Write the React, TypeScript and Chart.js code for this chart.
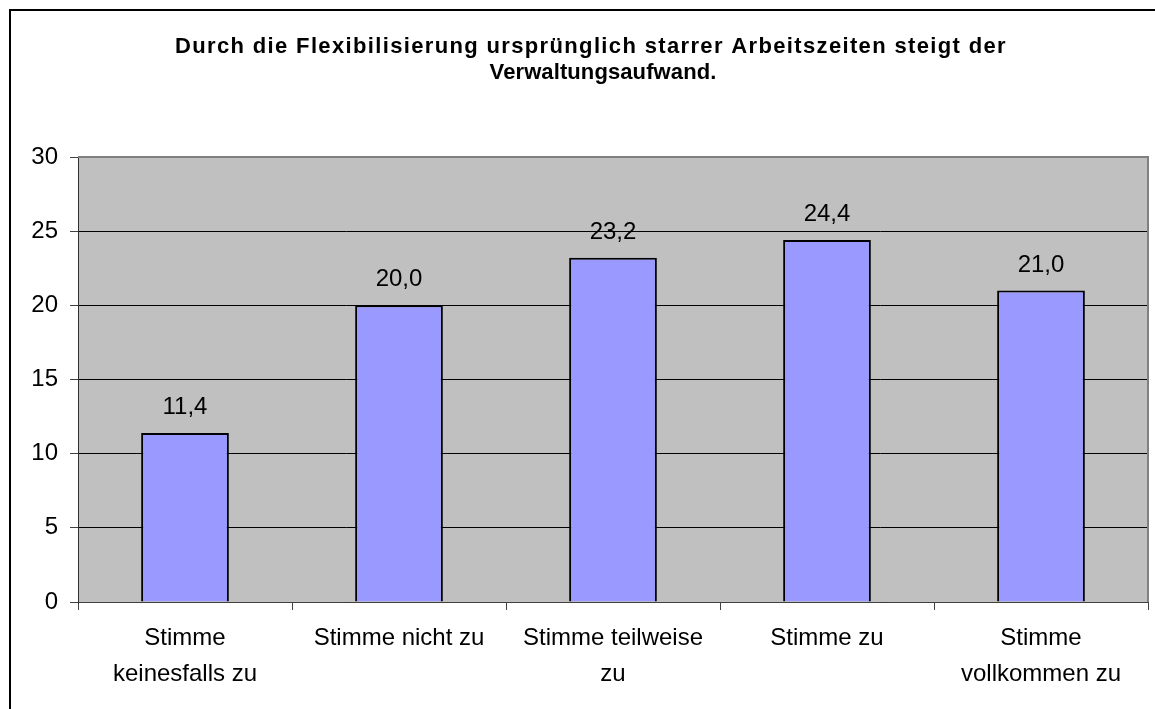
import React, { useEffect, useRef } from "react";
import { Chart, registerables } from "chart.js";

Chart.register(...registerables);

const titleLines = [
  "Durch die Flexibilisierung ursprünglich starrer Arbeitszeiten steigt der",
  "Verwaltungsaufwand.",
];
const categories: string[][] = [
  ["Stimme", "keinesfalls zu"],
  ["Stimme nicht zu"],
  ["Stimme teilweise", "zu"],
  ["Stimme zu"],
  ["Stimme", "vollkommen zu"],
];
const values = [11.4, 20.0, 23.2, 24.4, 21.0];
const yMin = 0;
const yMax = 30;
const yStep = 5;

const FONT = '"Liberation Sans", Arial, sans-serif';

const fmt = (v: number) => v.toFixed(1).replace(".", ",");

const decorPlugin = {
  id: "decor",
  beforeDraw(chart: any) {
    const { ctx, chartArea } = chart;
    ctx.save();
    ctx.fillStyle = "#ffffff";
    ctx.fillRect(0, 0, chart.width, chart.height);
    ctx.fillStyle = "#C0C0C0";
    ctx.fillRect(chartArea.left, chartArea.top, chartArea.right - chartArea.left, chartArea.bottom - chartArea.top);
    ctx.restore();
  },
  afterDraw(chart: any) {
    const { ctx, chartArea } = chart;
    ctx.save();
    // plot border top and right
    ctx.strokeStyle = "#808080";
    ctx.lineWidth = 2;
    ctx.beginPath();
    ctx.moveTo(chartArea.left, chartArea.top);
    ctx.lineTo(chartArea.right, chartArea.top);
    ctx.lineTo(chartArea.right, chartArea.bottom);
    ctx.stroke();
    // outer chart border
    ctx.strokeStyle = "#000000";
    ctx.lineWidth = 2;
    ctx.strokeRect(10, 10, chart.width + 20, chart.height + 20);
    // title
    ctx.fillStyle = "#000000";
    ctx.font = `bold 22px ${FONT}`;
    ctx.textAlign = "center";
    ctx.textBaseline = "alphabetic";
    (ctx as any).letterSpacing = "1.35px";
    ctx.fillText(titleLines[0], 591, 53);
    (ctx as any).letterSpacing = "0.1px";
    ctx.fillText(titleLines[1], 603, 79);
    (ctx as any).letterSpacing = "0px";
    // data labels
    const meta = chart.getDatasetMeta(0);
    ctx.font = `24px ${FONT}`;
    meta.data.forEach((bar: any, i: number) => {
      ctx.fillText(fmt(values[i]), bar.x, bar.y - 19);
    });
    ctx.restore();
  },
};

export default function App() {
  const ref = useRef<HTMLCanvasElement | null>(null);
  useEffect(() => {
    if (!ref.current) return;
    const chart = new Chart(ref.current, {
      type: "bar",
      data: {
        labels: categories,
        datasets: [
          {
            data: values,
            backgroundColor: "#9999FF",
            borderColor: "#000000",
            borderWidth: 2,
            barPercentage: 0.41,
            categoryPercentage: 1,
          },
        ],
      },
      options: {
        animation: false,
        responsive: false,
        layout: { padding: { top: 157, right: 7, left: 0, bottom: 0 } },
        plugins: {
          legend: { display: false },
          title: { display: false },
          tooltip: { enabled: false },
        },
        scales: {
          x: {
            offset: true,
            afterFit: (s: any) => {
              s.height = 107;
            },
            grid: {
              display: true,
              drawOnChartArea: false,
              offset: true,
              tickLength: 8,
              tickColor: "#404040",
            },
            border: { display: true, color: "#404040", width: 1 },
            ticks: {
              color: "#000000",
              font: { family: FONT, size: 24, lineHeight: 1.5 },
              padding: 10,
              maxRotation: 0,
              minRotation: 0,
              autoSkip: false,
            },
          },
          y: {
            min: yMin,
            max: yMax,
            afterFit: (s: any) => {
              s.width = 78;
            },
            grid: {
              color: "#000000",
              lineWidth: 1,
              tickLength: 8,
              tickColor: "#404040",
            },
            border: { display: true, color: "#303030", width: 1 },
            ticks: {
              stepSize: yStep,
              color: "#000000",
              font: { family: FONT, size: 24 },
              padding: 12,
            },
          },
        },
      },
      plugins: [decorPlugin],
    });
    return () => chart.destroy();
  }, []);
  return (
    <div style={{ position: "absolute", left: 0, top: 0, width: 1155, height: 709, background: "#ffffff" }}>
      <canvas ref={ref} width={1155} height={709} style={{ display: "block" }} />
    </div>
  );
}
